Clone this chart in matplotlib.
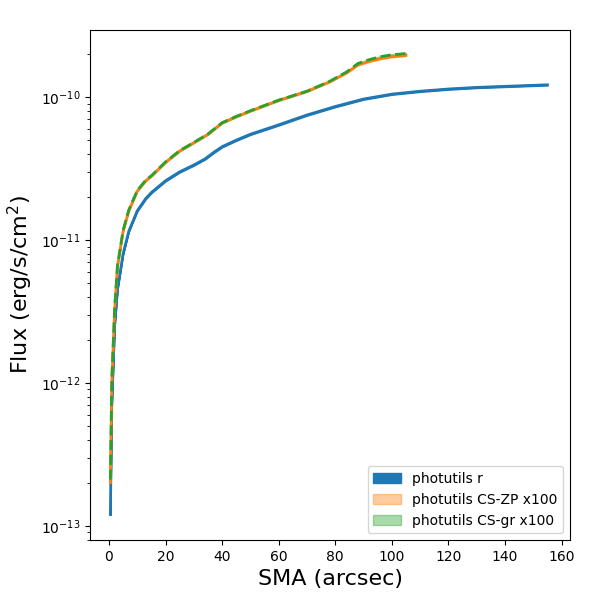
import matplotlib
matplotlib.use("Agg")
import matplotlib.pyplot as plt
import numpy as np

sma_r = [0.5, 1, 2, 3, 5, 7, 10, 13, 15, 20, 25, 30, 34, 37, 40, 45, 50, 60, 70, 80, 90, 100, 110, 120, 130, 140, 150, 155]
flux_r = [1.2e-13, 7e-13, 2.5e-12, 4.5e-12, 8e-12, 1.15e-11, 1.6e-11, 1.95e-11, 2.15e-11, 2.6e-11, 3.0e-11, 3.35e-11, 3.7e-11, 4.1e-11, 4.5e-11, 5.0e-11, 5.5e-11, 6.4e-11, 7.5e-11, 8.6e-11, 9.7e-11, 1.05e-10, 1.1e-10, 1.14e-10, 1.17e-10, 1.19e-10, 1.21e-10, 1.22e-10]
sma_c = [0.5, 1, 2, 3, 5, 7, 10, 13, 15, 20, 25, 30, 35, 40, 45, 50, 60, 70, 78, 84, 88, 92, 96, 100, 105]
flux_zp = [2e-13, 1e-12, 3.2e-12, 6.5e-12, 1.15e-11, 1.6e-11, 2.2e-11, 2.6e-11, 2.8e-11, 3.5e-11, 4.2e-11, 4.8e-11, 5.5e-11, 6.6e-11, 7.3e-11, 8.0e-11, 9.5e-11, 1.1e-10, 1.28e-10, 1.48e-10, 1.68e-10, 1.78e-10, 1.86e-10, 1.92e-10, 1.96e-10]
flux_gr = [2.1e-13, 1.05e-12, 3.3e-12, 6.6e-12, 1.17e-11, 1.62e-11, 2.22e-11, 2.62e-11, 2.82e-11, 3.52e-11, 4.22e-11, 4.82e-11, 5.52e-11, 6.62e-11, 7.33e-11, 8.03e-11, 9.53e-11, 1.1e-10, 1.29e-10, 1.5e-10, 1.72e-10, 1.83e-10, 1.92e-10, 1.98e-10, 2.02e-10]

fig, ax = plt.subplots(figsize=(6, 6), dpi=100)
fig.subplots_adjust(left=0.15, right=0.95, top=0.95, bottom=0.1)
r = np.array(flux_r); zp = np.array(flux_zp); gr = np.array(flux_gr)
ax.fill_between(sma_r, r*0.99, r*1.01, color='C0', label='photutils r')
ax.plot(sma_r, r, color='C0', lw=2)
ax.fill_between(sma_c, zp*0.99, zp*1.01, color='C1', alpha=0.4, label='photutils CS-ZP x100')
ax.plot(sma_c, zp, color='C1', lw=2)
ax.fill_between(sma_c, gr*0.99, gr*1.01, color='C2', alpha=0.4, label='photutils CS-gr x100')
ax.plot(sma_c, gr, color='C2', lw=2, ls='--')
ax.set_yscale('log')
ax.set_xlim(-6.7, 163)
ax.set_ylim(10**-13.1, 10**-9.53)
ax.set_xlabel('SMA (arcsec)', fontsize=16)
ax.set_ylabel(r'Flux (erg/s/cm$^2$)', fontsize=16)
ax.legend(loc='lower right')
fig.savefig('out.png')
